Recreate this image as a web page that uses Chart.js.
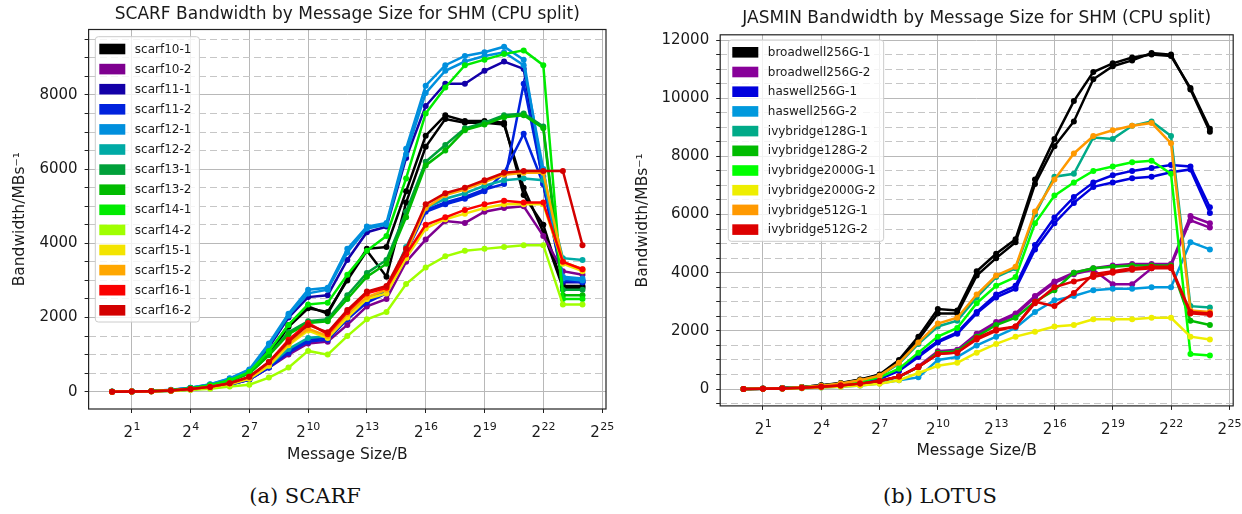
<!DOCTYPE html>
<html>
<head>
<meta charset="utf-8">
<script src="https://cdn.jsdelivr.net/npm/chart.js@4.4.1/dist/chart.umd.min.js"></script>
<style>
  body { margin: 0; width: 1242px; height: 514px; background: #fff; position: relative; overflow: hidden; }
  .panel { position: absolute; top: 0; }
  .caption { position: absolute; top: 484px; font-family: "DejaVu Serif", serif; font-size: 21px; color: #111; transform: translateX(-50%); white-space: nowrap; }
</style>
</head>
<body>
<div class="panel" style="left:0"><canvas id="scarf" width="620" height="470"></canvas></div>
<div class="panel" style="left:622px"><canvas id="jasmin" width="620" height="470"></canvas></div>
<div class="caption" style="left:305px">(a) SCARF</div>
<div class="caption" style="left:940px">(b) LOTUS</div>
<script>
// message sizes as powers of two (2^0 .. 2^24)
const msgExp = [0,1,2,3,4,5,6,7,8,9,10,11,12,13,14,15,16,17,18,19,20,21,22,23,24];
const xTickExp = [1,4,7,10,13,16,19,22,25];

// ---- SCARF (left) ----
const scarfLabels = ['scarf10-1','scarf10-2','scarf11-1','scarf11-2','scarf12-1','scarf12-2','scarf13-1',
  'scarf13-2','scarf14-1','scarf14-2','scarf15-1','scarf15-2','scarf16-1','scarf16-2'];
const scarfColors = ['#000000','#7e008f','#1300a8','#0022dd','#008fdd','#00aaa5','#00a03a',
  '#00bb00','#00eb00','#a0ff00','#f3e400','#ffa700','#fa0000','#d30000'];

const scarf10_1 = [2,8,18,40,90,170,300,520,1050,1800,2300,2100,3050,3850,3900,5400,6900,7450,7300,7300,7250,5300,4500,2850,2850];
const scarf10_1b = [2,8,18,40,88,165,290,500,1000,1750,2250,2150,3000,3800,3100,5100,6600,7350,7250,7250,7200,5500,4300,2800,2800];
const scarf10_2 = [0,4,12,28,60,110,190,330,650,1000,1300,1350,1800,2300,2500,3500,4100,4600,4550,4850,4950,5000,4200,3250,3150];
const scarf11_1 = [2,8,20,45,100,190,330,560,1200,2000,2550,2600,3550,4300,4450,6300,7700,8300,8300,8650,8900,8700,5600,2950,2950];
const scarf11_2 = [0,4,12,28,60,110,190,330,650,1100,1400,1450,2000,2450,2700,3800,4900,5100,5250,5450,5600,8300,5650,3050,3000];
const scarf11_2b = [0,4,12,28,60,110,190,330,650,1050,1350,1400,1950,2400,2650,3750,4850,5050,5200,5400,5900,6950,5600,3000,2950];
const scarf12_1 = [3,10,22,50,110,200,360,600,1300,2100,2750,2800,3850,4450,4550,6550,8250,8800,9050,9150,9300,8950,5800,3100,3050];
const scarf12_1b = [3,10,22,48,105,195,350,580,1250,2050,2650,2750,3750,4400,4500,6400,8050,8650,8900,9050,9150,8800,6000,3050,3000];
const scarf12_2 = [0,5,13,30,65,120,210,360,700,1150,1450,1500,2100,2500,2750,3900,4950,5200,5350,5550,5700,5750,5700,3600,3550];
const scarf13_1 = [2,8,18,40,90,170,300,500,1000,1600,1900,1950,2600,3200,3550,4850,6200,6650,7100,7250,7450,7500,7150,2750,2750];
const scarf13_2 = [2,8,18,40,88,165,290,490,980,1550,1850,1900,2500,3100,3450,4700,6100,6500,7050,7200,7400,7450,7100,2600,2600];
const scarf14_1 = [2,8,18,40,90,175,310,530,1100,1800,2350,2400,3150,3800,4200,5750,7500,8200,8800,8950,9100,9200,8800,2500,2500];
const scarf14_2 = [0,3,8,20,45,80,140,190,380,650,1100,1000,1500,1950,2150,2900,3350,3650,3800,3850,3900,3950,3950,2350,2350];
const scarf15_1 = [0,4,12,30,62,115,200,350,700,1250,1650,1450,2000,2500,2650,3600,4400,4650,4800,4950,5050,5050,5050,3450,3250];
const scarf15_2 = [0,5,14,32,68,125,220,380,760,1300,1700,1500,2100,2550,2750,3750,4950,5300,5450,5650,5850,5900,5900,3500,3300];
const scarf16_1 = [0,5,14,32,70,130,230,400,800,1400,1850,1550,2150,2650,2800,3700,4500,4700,4900,5050,5150,5100,5100,3500,3300];
const scarf16_2 = [0,5,14,32,70,130,230,400,800,1350,1800,1600,2200,2700,2850,3850,5050,5350,5500,5700,5900,5950,5950,5950,3950];

// [series, legend index]
const scarfRuns = [
  [scarf10_1,0],[scarf10_1b,0],[scarf10_2,1],[scarf11_1,2],[scarf11_2,3],[scarf11_2b,3],[scarf12_1,4],
  [scarf12_1b,4],[scarf12_2,5],[scarf13_1,6],[scarf13_2,7],[scarf14_1,8],[scarf14_2,9],[scarf15_1,10],
  [scarf15_2,11],[scarf16_1,12],[scarf16_2,13]
];

// ---- JASMIN / LOTUS (right) ----
const jasminLabels = ['broadwell256G-1','broadwell256G-2','haswell256G-1','haswell256G-2','ivybridge128G-1',
  'ivybridge128G-2','ivybridge2000G-1','ivybridge2000G-2','ivybridge512G-1','ivybridge512G-2'];
const jasminColors = ['#000000','#880099','#0000dd','#0099dd','#00aa88','#00bb00','#00ff00','#eeee00','#ff9900','#dd0000'];

const broadwell1 = [0,15,35,70,130,210,330,500,1000,1800,2750,2700,4050,4650,5150,7200,8600,9900,10900,11200,11400,11500,11450,10350,8950];
const broadwell1b = [0,14,33,68,125,200,320,480,950,1700,2600,2600,3900,4500,5050,7050,8350,9200,10650,11100,11300,11550,11500,10300,8850];
const broadwell2 = [0,8,20,40,75,120,190,280,430,780,1300,1350,1900,2300,2600,3200,3700,4000,4150,4250,4300,4300,4300,5950,5700];
const broadwell2b = [0,8,20,40,75,120,185,270,420,760,1250,1300,1850,2250,2550,3150,3650,3950,4100,3600,3600,4150,4250,5800,5550];
const haswell1 = [0,10,25,50,95,150,230,360,650,1150,1650,1950,2650,3250,3550,4950,5900,6600,7100,7350,7500,7600,7700,7650,6250];
const haswell1b = [0,10,24,48,90,145,220,340,620,1100,1600,1900,2600,3150,3450,4800,5700,6400,6950,7100,7250,7300,7450,7550,6050];
const haswell2 = [0,5,12,25,50,80,120,190,300,400,1000,1100,1500,1800,2100,2650,3050,3200,3400,3450,3450,3500,3500,5050,4800];
const ivy128_1 = [0,12,30,60,115,185,290,450,870,1550,2150,2350,3150,3850,4150,6000,7300,7400,8650,8600,9050,9200,8700,2850,2800];
const ivy128_2 = [0,8,20,40,75,120,180,270,420,750,1250,1300,1800,2200,2450,3000,3400,4000,4150,4200,4250,4250,4250,2350,2200];
const ivy2000_1 = [0,10,25,50,100,165,260,400,700,1250,1800,2100,2950,3550,3850,5700,6650,7100,7500,7650,7800,7850,7400,1200,1150];
const ivy2000_2 = [0,5,12,25,50,80,120,180,300,550,800,900,1250,1550,1800,1970,2150,2200,2400,2400,2400,2450,2450,1800,1700];
const ivy512_1 = [0,12,30,60,115,190,300,460,900,1600,2250,2450,3250,3900,4200,6100,7200,8100,8700,8900,9050,9150,8450,2700,2650];
const ivy512_2 = [0,8,20,40,75,120,185,275,430,760,1200,1250,1750,2050,2150,3000,2850,3300,3950,4050,4150,4200,4200,2650,2600];
const ivy512_2b = [0,8,20,40,75,120,185,275,430,760,1200,1250,1700,2000,2150,2950,3500,3700,3850,4000,4100,4150,4150,2600,2550];

const jasminRuns = [
  [broadwell1,0],[broadwell1b,0],[broadwell2,1],[broadwell2b,1],[haswell1,2],[haswell1b,2],[haswell2,3],
  [ivy128_1,4],[ivy128_2,5],[ivy2000_1,6],[ivy2000_2,7],[ivy512_1,8],[ivy512_2,9],[ivy512_2b,9]
];

const FONT = '"DejaVu Sans", sans-serif';
const INK = '#1a1a1a';

function makeDatasets(runs, colors) {
  return runs.map(([vals, li], i) => ({
    data: vals.map((v, k) => ({ x: msgExp[k], y: v })),
    borderColor: colors[li],
    backgroundColor: colors[li],
    borderWidth: 2.5,
    pointRadius: 3,
    pointBorderWidth: 0,
    tension: 0,
    order: -i
  }));
}

// title over the plot area, frame, legend box and 2^n tick labels
const decor = {
  id: 'decor',
  afterDatasetsDraw(chart, args, o) {
    const ctx = chart.ctx, a = chart.chartArea;
    ctx.save();
    ctx.font = '12px ' + FONT;
    const tw = Math.max(...o.labels.map(l => ctx.measureText(l).width));
    const x0 = a.left + o.dx, y0 = a.top + o.dy;
    const bw = 4 + 26 + 9.5 + tw + 8;
    const bh = 24 + (o.labels.length - 1) * o.pitch;
    ctx.fillStyle = 'rgba(255,255,255,0.8)';
    ctx.strokeStyle = '#cccccc';
    ctx.lineWidth = 1;
    ctx.beginPath();
    ctx.roundRect(x0, y0, bw, bh, 3);
    ctx.fill();
    ctx.stroke();
    ctx.textBaseline = 'middle';
    o.labels.forEach((l, i) => {
      const cy = y0 + 12.3 + i * o.pitch;
      ctx.fillStyle = o.colors[i];
      ctx.fillRect(x0 + 4, cy - 5.3, 26, 10.6);
      ctx.fillStyle = INK;
      ctx.fillText(l, x0 + 39.5, cy + 0.5);
    });
    ctx.restore();
  },
  afterDraw(chart, args, o) {
    const ctx = chart.ctx, a = chart.chartArea, xs = chart.scales.x;
    ctx.save();
    ctx.strokeStyle = '#222';
    ctx.lineWidth = 1.2;
    ctx.strokeRect(a.left, a.top, a.right - a.left, a.bottom - a.top);
    ctx.fillStyle = INK;
    ctx.textAlign = 'center';
    ctx.textBaseline = 'middle';
    ctx.font = '17px ' + FONT;
    ctx.fillText(o.title, (a.left + a.right) / 2, o.titleY);
    ctx.textAlign = 'left';
    ctx.textBaseline = 'alphabetic';
    xs.ticks.forEach(t => {
      const px = xs.getPixelForValue(t.value);
      ctx.font = '15px ' + FONT;
      const wb = ctx.measureText('2').width;
      ctx.font = '11px ' + FONT;
      const we = ctx.measureText(String(t.value)).width;
      const sx = px - (wb + we) / 2;
      ctx.font = '15px ' + FONT;
      ctx.fillText('2', sx, a.bottom + 28);
      ctx.font = '11px ' + FONT;
      ctx.fillText(String(t.value), sx + wb + 0.5, a.bottom + 21);
    });
    ctx.restore();
  }
};

function makeChart(id, cfg) {
  const yStep = 500;
  return new Chart(document.getElementById(id), {
    type: 'line',
    data: { datasets: makeDatasets(cfg.runs, cfg.colors) },
    plugins: [decor],
    options: {
      responsive: false,
      animation: false,
      devicePixelRatio: 1,
      layout: { padding: { left: 0, right: cfg.padRight, top: cfg.padTop, bottom: 0 } },
      plugins: {
        legend: { display: false },
        tooltip: { enabled: false },
        title: { display: false },
        decor: { title: cfg.title, titleY: cfg.titleY, labels: cfg.labels, colors: cfg.colors,
                 dx: cfg.legDx, dy: cfg.legDy, pitch: cfg.legPitch }
      },
      scales: {
        x: {
          type: 'linear', min: -1.2, max: 25.2,
          afterBuildTicks: s => { s.ticks = xTickExp.map(v => ({ value: v })); },
          afterFit: s => { s.height = cfg.xAxisH; },
          grid: { color: '#b8b8b8', lineWidth: 1, tickLength: 4, tickColor: '#222' },
          border: { display: false },
          ticks: { callback: () => '', autoSkip: false, maxRotation: 0 },
          title: {
            display: true, text: 'Message Size/B', color: INK,
            font: { family: FONT, size: 15.5 }, padding: { top: 0, bottom: cfg.xTitlePad }
          }
        },
        y: {
          type: 'linear', min: cfg.yMin, max: cfg.yMax,
          afterBuildTicks: s => {
            const t = [];
            for (let v = Math.ceil(cfg.yMin / yStep) * yStep; v <= cfg.yMax; v += yStep) t.push({ value: v });
            s.ticks = t;
          },
          afterFit: s => { s.width = cfg.yAxisW; },
          grid: {
            color: c => (c.tick && c.tick.value % 2000 === 0) ? '#b8b8b8' : '#c6c6c6',
            lineWidth: 1, tickLength: 4, tickColor: '#222'
          },
          border: {
            display: false,
            dash: c => (c.tick && c.tick.value % 2000 !== 0) ? [7, 4] : []
          },
          ticks: {
            autoSkip: false, padding: 7, color: INK,
            font: { family: FONT, size: 15 },
            callback: v => (v % 2000 === 0 ? String(v) : '')
          },
          title: {
            display: true, text: 'Bandwidth/MBs\u207B\u00B9', color: INK,
            font: { family: FONT, size: 15.5 }, padding: { top: cfg.yTitlePad, bottom: 0 }
          }
        }
      }
    }
  });
}

makeChart('scarf', {
  title: 'SCARF Bandwidth by Message Size for SHM (CPU split)',
  runs: scarfRuns, colors: scarfColors, labels: scarfLabels,
  yMin: -466, yMax: 9763, yAxisW: 88.6, xAxisH: 61, padRight: 14, padTop: 29.5, titleY: 14.5,
  xTitlePad: 5.5, yTitlePad: 10.5,
  legDx: 6.7, legDy: 7.2, legPitch: 20.1
});

makeChart('jasmin', {
  title: 'JASMIN Bandwidth by Message Size for SHM (CPU split)',
  runs: jasminRuns, colors: jasminColors, labels: jasminLabels,
  yMin: -581, yMax: 12180, yAxisW: 98.2, xAxisH: 64.1, padRight: 8.8, padTop: 34.8, titleY: 18.5,
  xTitlePad: 9.5, yTitlePad: 11.5,
  legDx: 8.1, legDy: 5.2, legPitch: 19.7
});
</script>
</body>
</html>
